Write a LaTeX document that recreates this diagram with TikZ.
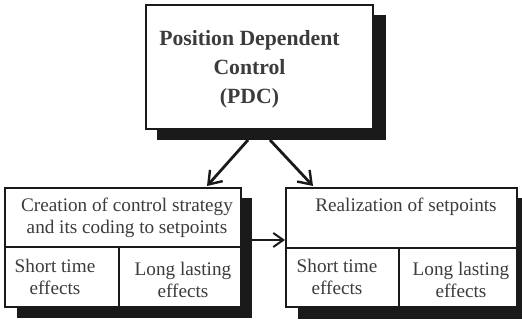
\documentclass[tikz,border=0pt]{standalone}
\usepackage{fontspec}
\setmainfont{Liberation Serif}
\usetikzlibrary{arrows.meta}
\definecolor{ink}{HTML}{1A1A1A}
\definecolor{txt}{HTML}{3C3C3C}
\begin{document}
\begin{tikzpicture}[x=1pt,y=-1pt,
  frame/.style={draw=ink,line width=2.6pt,fill=white},
  cell/.style={draw=ink,line width=2.2pt},
  shade/.style={fill=ink,draw=none},
  title/.style={font=\bfseries\fontsize{21.7}{29}\selectfont,text=txt,align=center,inner sep=0pt},
  label/.style={font=\fontsize{19.2}{22.3}\selectfont,text=txt,align=center,inner sep=0pt},
  link/.style={draw=ink,line width=2.8pt,-{Straight Barb[length=12pt,width=17pt,line width=2.4pt]}},
  hlink/.style={draw=ink,line width=1.8pt,-{Straight Barb[length=10pt,width=14pt,line width=2pt]}}]
\useasboundingbox (0,0) rectangle (522,323);

% drop shadows
\fill[shade] (157,15) rectangle (386,140);
\fill[shade] (17,198) rectangle (252,318);
\fill[shade] (298,198) rectangle (522,319);

% top box
\draw[frame] (146,5) rectangle (373,129);
\node[title] (pdc) at (249.5,69) {Position Dependent\\Control\\(PDC)};

% left box
\draw[frame] (5,188) rectangle (241,307);
\draw[cell] (5,247) -- (241,247);
\draw[cell] (119,247) -- (119,307);
\node[label] (create) at (127,218) {Creation of control strategy\\and its coding to setpoints};
\node[label] (lshort) at (55,277) {Short time\\effects};
\node[label] (llong) at (183,280) {Long lasting\\effects};

% right box
\draw[frame] (286,188) rectangle (517,307);
\draw[cell] (286,248) -- (517,248);
\draw[cell] (399,248) -- (399,307);
\node[label] (real) at (406,207) {Realization of setpoints};
\node[label] (rshort) at (337,277) {Short time\\effects};
\node[label] (rlong) at (461,280) {Long lasting\\effects};

% connectors
\coordinate (pdcL) at (248,140);
\coordinate (pdcR) at (270,140);
\coordinate (leftTop) at (207,186);
\coordinate (rightTop) at (313,186);
\coordinate (leftSide) at (252,240);
\coordinate (rightSide) at (285,240);
\draw[link] (pdcL) -- (leftTop);
\draw[link] (pdcR) -- (rightTop);
\draw[hlink] (leftSide) -- (rightSide);
\end{tikzpicture}
\end{document}
